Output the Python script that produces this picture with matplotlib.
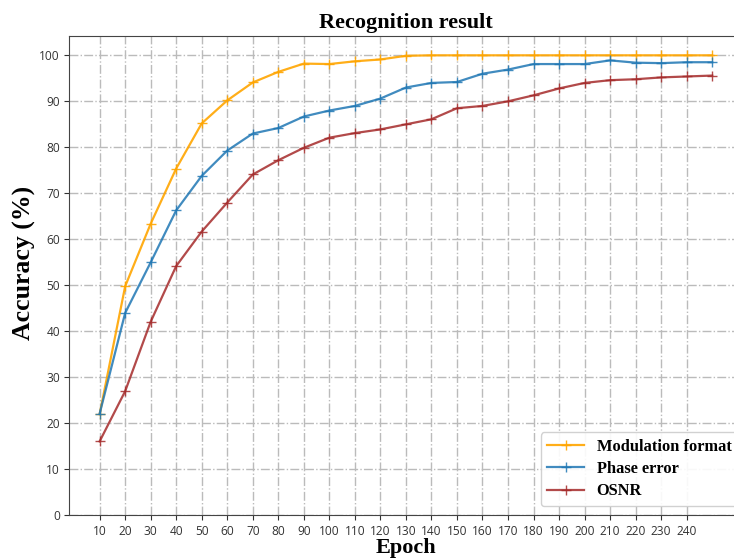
import matplotlib
matplotlib.use("Agg")
import matplotlib.pyplot as plt

epochs = [10, 20, 30, 40, 50, 60, 70, 80, 90, 100, 110, 120, 130, 140, 150,
          160, 170, 180, 190, 200, 210, 220, 230, 240, 250]
modulation = [22.0, 49.8, 63.4, 75.4, 85.2, 90.2, 94.1, 96.4, 98.2, 98.1, 98.7, 99.1, 99.9,
              100, 100, 100, 100, 100, 100, 100, 100, 100, 100, 100, 100]
phase = [22.1, 44.0, 55.0, 66.3, 73.8, 79.3, 83.0, 84.2, 86.7, 88.0, 89.0, 90.6, 93.0,
         94.0, 94.2, 96.0, 96.9, 98.1, 98.1, 98.1, 98.9, 98.4, 98.3, 98.5, 98.5]
osnr = [16.1, 27.0, 42.1, 54.2, 61.7, 68.0, 74.1, 77.2, 79.9, 82.1, 83.1, 83.9, 85.0,
        86.1, 88.5, 89.0, 90.0, 91.3, 92.8, 94.0, 94.6, 94.8, 95.2, 95.4, 95.6]
xticks = list(range(10, 250, 10))
yticks = list(range(0, 101, 10))
labels = ["Modulation format", "Phase error", "OSNR"]

fig = plt.figure(figsize=(7.34, 5.58), dpi=100)
ax = fig.add_axes([0.094, 0.0762, 0.918, 0.8593])

serif = ["Liberation Serif", "DejaVu Serif"]
ax.plot(epochs, modulation, color="#ffa500", marker="+", ms=7, lw=1.6, alpha=0.9, label=labels[0])
ax.plot(epochs, phase, color="#1f77b4", marker="+", ms=7, lw=1.6, alpha=0.85, label=labels[1])
ax.plot(epochs, osnr, color="#a52a2a", marker="+", ms=7, lw=1.6, alpha=0.85, label=labels[2])

ax.set_xlim(-2, 262)
ax.set_ylim(0, 104.2)
ax.set_xticks(xticks)
ax.set_yticks(yticks)
ax.tick_params(labelsize=8.6, colors="#333333", length=3.5, pad=3)
for lab in ax.get_xticklabels() + ax.get_yticklabels():
    lab.set_family(["Open Sans", "DejaVu Sans"])
ax.grid(True, linestyle="-.", color="#bbbbbb", lw=1.0)
for s in ax.spines.values():
    s.set_color("#444444")
ax.spines["right"].set_visible(False)

ax.set_title("Recognition result", fontsize=16, fontweight="bold", family=serif, pad=6)
ax.set_xlabel("Epoch", fontsize=16, fontweight="bold", family=serif, labelpad=0)
ax.set_ylabel("Accuracy (%)", fontsize=18.5, fontweight="bold", family=serif)
ax.yaxis.set_label_coords(-0.049, 0.527)

leg = ax.legend(loc="lower right", prop={"family": serif, "weight": "bold", "size": 11.8},
                bbox_to_anchor=(0.993, 0.02), borderaxespad=0, framealpha=0.9,
                handlelength=2.2, borderpad=0.4, labelspacing=0.38)

fig.savefig("out.png", dpi=100)
